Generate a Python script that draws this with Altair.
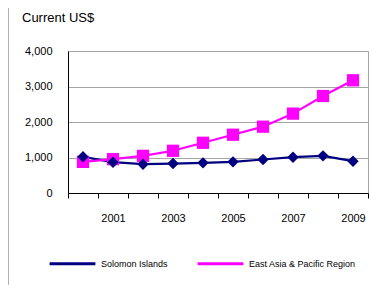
import altair as alt
import pandas as pd

years = [str(y) for y in range(2000, 2010)]
solomon = [1019, 868, 811, 830, 849, 877, 943, 1009, 1047, 896]
east_asia = [877, 953, 1047, 1189, 1415, 1642, 1868, 2236, 2732, 3175]
series = ["Solomon Islands", "East Asia & Pacific Region"]
colors = ["#000080", "#FF00FF"]

df = pd.DataFrame({
    "year": years * 2,
    "value": solomon + east_asia,
    "series": [series[0]] * len(years) + [series[1]] * len(years),
})

FONT = "Liberation Sans"

x = alt.X("year:O", title=None,
          scale=alt.Scale(type="band", paddingInner=0, paddingOuter=0),
          axis=alt.Axis(tickBand="extent", labelAngle=0, labelFont=FONT, labelFontSize=11,
                        labelColor="#000", domainColor="#000", tickColor="#000",
                        tickSize=5, labelPadding=14, grid=False,
                        labelExpr="toNumber(datum.value) % 2 == 1 ? datum.label : ''"))
y = alt.Y("value:Q", title=None,
          scale=alt.Scale(domain=[0, 4000]),
          axis=alt.Axis(values=[0, 1000, 2000, 3000, 4000], format=",.0f", labelFont=FONT,
                        labelFontSize=11, labelColor="#000", domainColor="#000",
                        ticks=False, labelPadding=16, gridColor="#a6a6a6"))
color = alt.Color("series:N", scale=alt.Scale(domain=series, range=colors),
                  legend=alt.Legend(title=None, orient="none", direction="horizontal",
                                    legendX=-20, legendY=188, symbolType="stroke",
                                    symbolSize=2100, symbolStrokeWidth=3,
                                    labelFont=FONT, labelFontSize=9, labelColor="#000",
                                    labelOffset=4, columnPadding=23))

base = alt.Chart(df)
lines = base.mark_line(strokeWidth=2.2).encode(x=x, y=y, color=color)
sol_pts = base.transform_filter(alt.datum.series == series[0]).mark_point(
    shape="diamond", filled=True, size=130, opacity=1).encode(
    x=x, y=y, color=alt.Color("series:N", scale=alt.Scale(domain=series, range=colors), legend=None))
ea_pts = base.transform_filter(alt.datum.series == series[1]).mark_point(
    shape="square", filled=True, size=150, opacity=1).encode(
    x=x, y=y, color=alt.Color("series:N", scale=alt.Scale(domain=series, range=colors), legend=None))

border = alt.Chart(pd.DataFrame({"k": [0]})).mark_rule(color="#b0b0b0", strokeWidth=1, clip=False).encode(
    x=alt.value(-59.5), y=alt.value(-43), y2=alt.value(234))

chart = alt.layer(lines, ea_pts, sol_pts, border).properties(
    width=300, height=142,
    autosize=alt.AutoSizeParams(type="none"),
    padding={"left": 60, "top": 43, "right": 8, "bottom": 92},
    title=alt.TitleParams("Current US$", anchor="start", frame="group", dx=-46, offset=0, dy=17,
                          font=FONT, fontSize=13, fontWeight="normal", color="#000"),
).configure_view(stroke="#a6a6a6", strokeWidth=1)

chart.save("out.html", embed_options={"renderer": "svg", "actions": False})
